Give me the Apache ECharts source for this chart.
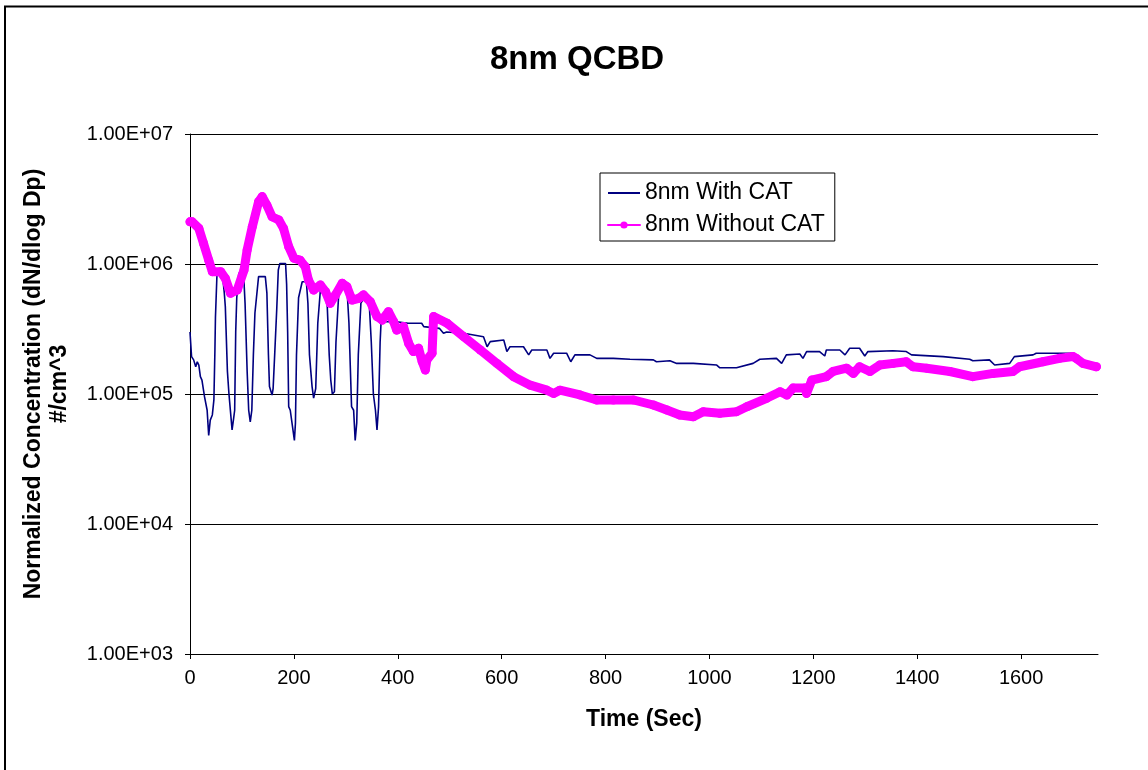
<!DOCTYPE html>
<html>
<head>
<meta charset="utf-8">
<script src="https://cdn.jsdelivr.net/npm/echarts@6/dist/echarts.min.js"></script>
<style>
html,body{margin:0;padding:0;background:#fff;}
#chart{width:1148px;height:770px;}
</style>
</head>
<body>
<div id="chart"></div>
<script>
const chartTitle = '8nm QCBD';
const xAxisName = 'Time (Sec)';
const yAxisNameLines = ['Normalized Concentration (dN/dlog Dp)', '#/cm^3'];
const seriesNames = ['8nm With CAT', '8nm Without CAT'];

// [time (s), concentration]
const withCat = [
[0,3.0e5],[3,1.94e5],[7,1.83e5],[11,1.62e5],[14,1.77e5],[17,1.67e5],[20,1.36e5],[23,1.28e5],[28,9.5e4],[33,7.5e4],[36,4.8e4],[39,6.3e4],[43,6.9e4],[46,9.0e4],[48,2.2e5],[49,3.9e5],[52,8.5e5],[55,8.8e5],[62,8.7e5],[66,6.0e5],[68,4.7e5],[72,1.5e5],[75,1.0e5],[81,5.3e4],[84,6.5e4],[86,7.5e4],[88,3.0e5],[90,5.5e5],[94,8.5e5],[103,8.7e5],[106,5.0e5],[110,1.5e5],[113,7.5e4],[116,6.1e4],[119,7.5e4],[122,2.0e5],[125,4.2e5],[132,8.0e5],[145,8.0e5],[148,6.0e5],[151,2.0e5],[153,1.14e5],[158,9.8e4],[160,1.1e5],[163,2.0e5],[167,4.5e5],[170,9.0e5],[173,1.01e6],[184,1.01e6],[186,7.0e5],[188,3.0e5],[190,8.0e4],[193,7.5e4],[201,4.4e4],[203,6.0e4],[205,2.0e5],[209,5.5e5],[216,7.3e5],[224,7.3e5],[227,5.0e5],[230,2.0e5],[235,1.14e5],[238,9.3e4],[242,1.1e5],[246,3.5e5],[251,6.3e5],[261,6.3e5],[264,5.0e5],[268,2.0e5],[271,1.28e5],[274,1.0e5],[278,1.04e5],[281,2.5e5],[286,5.6e5],[290,7.1e5],[296,7.1e5],[302,6.7e5],[306,3.5e5],[311,8.0e4],[315,7.5e4],[318,4.4e4],[321,6.0e4],[324,2.0e5],[329,5.0e5],[334,5.4e5],[340,5.4e5],[345,5.0e5],[349,2.5e5],[353,1.0e5],[357,7.5e4],[360,5.3e4],[363,8.0e4],[366,2.5e5],[368,3.7e5],[375,3.6e5],[398,3.6e5],[420,3.5e5],[446,3.5e5],[450,3.3e5],[480,3.2e5],[488,2.93e5],[494,3.0e5],[527,2.93e5],[565,2.76e5],[572,2.31e5],[578,2.53e5],[604,2.6e5],[610,2.12e5],[616,2.31e5],[642,2.31e5],[652,2.0e5],[658,2.18e5],[687,2.18e5],[693,1.88e5],[700,2.06e5],[725,2.06e5],[733,1.77e5],[741,2.0e5],[770,2.0e5],[783,1.88e5],[815,1.88e5],[847,1.85e5],[892,1.83e5],[898,1.77e5],[924,1.80e5],[937,1.72e5],[969,1.72e5],[1014,1.67e5],[1020,1.59e5],[1052,1.59e5],[1084,1.72e5],[1097,1.85e5],[1129,1.88e5],[1139,1.72e5],[1148,2.0e5],[1174,2.03e5],[1180,1.88e5],[1187,2.12e5],[1212,2.12e5],[1222,1.96e5],[1225,2.18e5],[1251,2.18e5],[1261,2.0e5],[1270,2.25e5],[1289,2.25e5],[1299,1.96e5],[1305,2.12e5],[1353,2.15e5],[1379,2.12e5],[1389,2.0e5],[1450,1.94e5],[1501,1.85e5],[1507,1.8e5],[1539,1.83e5],[1549,1.67e5],[1578,1.72e5],[1587,1.94e5],[1623,2.0e5],[1629,2.06e5],[1700,2.06e5],[1706,2.0e5],[1720,1.8e5],[1745,1.65e5]
];

const withoutCat = [
[0,2.11e6],[4,2.11e6],[17,1.88e6],[26,1.44e6],[36,1.07e6],[43,8.73e5],[59,8.73e5],[68,7.76e5],[78,5.96e5],[91,6.31e5],[104,8.99e5],[110,1.28e6],[120,1.94e6],[132,3.01e6],[139,3.3e6],[148,2.84e6],[158,2.31e6],[171,2.18e6],[180,1.88e6],[190,1.36e6],[200,1.11e6],[212,1.07e6],[222,9.53e5],[228,7.53e5],[238,6.31e5],[251,6.89e5],[261,6.12e5],[270,4.99e5],[280,5.78e5],[293,7.11e5],[302,6.69e5],[312,5.28e5],[325,5.44e5],[334,5.78e5],[347,5.13e5],[360,3.94e5],[370,3.71e5],[382,4.3e5],[392,3.6e5],[398,3.1e5],[411,3.3e5],[421,2.45e5],[430,2.12e5],[440,2.25e5],[447,1.77e5],[453,1.53e5],[456,1.83e5],[466,2.06e5],[469,3.94e5],[495,3.5e5],[527,2.76e5],[559,2.18e5],[591,1.72e5],[623,1.36e5],[655,1.17e5],[687,1.07e5],[700,1.01e5],[712,1.07e5],[751,9.83e4],[783,8.99e4],[815,8.99e4],[854,8.99e4],[892,8.23e4],[918,7.53e4],[943,6.89e4],[969,6.69e4],[988,7.31e4],[1020,7.11e4],[1052,7.31e4],[1072,7.98e4],[1110,9.27e4],[1136,1.04e5],[1149,9.83e4],[1161,1.11e5],[1184,1.11e5],[1187,1.01e5],[1197,1.28e5],[1225,1.36e5],[1238,1.49e5],[1264,1.58e5],[1277,1.44e5],[1289,1.62e5],[1309,1.49e5],[1328,1.67e5],[1354,1.72e5],[1379,1.77e5],[1392,1.62e5],[1418,1.58e5],[1463,1.49e5],[1507,1.36e5],[1546,1.44e5],[1584,1.49e5],[1597,1.62e5],[1642,1.77e5],[1674,1.88e5],[1700,1.94e5],[1706,1.88e5],[1719,1.72e5],[1745,1.62e5]
];

const FONT = '"Liberation Sans", Arial, sans-serif';

function sciLabel(v) {
  const e = Math.round(Math.log10(v));
  return '1.00E' + (e >= 0 ? '+' : '-') + String(Math.abs(e)).padStart(2, '0');
}

const chart = echarts.init(document.getElementById('chart'), null, {renderer: 'canvas'});
chart.setOption({
  backgroundColor: '#ffffff',
  animation: false,
  title: {
    text: chartTitle,
    left: 490,
    top: 43,
    padding: 0,
    textStyle: {fontFamily: FONT, fontSize: 33, fontWeight: 'bold', color: '#000'}
  },
  grid: {left: 190, right: 50, top: 134, bottom: 116, containLabel: false},
  legend: {
    orient: 'vertical',
    left: 600,
    top: 173,
    padding: [8, 10, 4, 7],
    itemWidth: 32,
    itemHeight: 9,
    itemGap: 8,
    backgroundColor: '#fff',
    borderColor: '#000',
    borderWidth: 1,
    borderRadius: 0,
    textStyle: {fontFamily: FONT, fontSize: 23, color: '#000', lineHeight: 24},
    data: [
      {name: seriesNames[0], itemStyle: {opacity: 0}},
      {name: seriesNames[1]}
    ]
  },
  xAxis: {
    type: 'value',
    min: 0,
    max: 1748,
    interval: 200,
    name: xAxisName,
    nameLocation: 'middle',
    nameGap: 54,
    nameTextStyle: {fontFamily: FONT, fontSize: 23, fontWeight: 'bold', color: '#000'},
    axisLine: {lineStyle: {color: '#000', width: 1}},
    axisTick: {show: true, inside: false, length: 5, lineStyle: {color: '#000'}},
    axisLabel: {fontFamily: FONT, fontSize: 20, color: '#000', margin: 14, showMaxLabel: false,
      formatter: function (v) { return String(v); }},
    splitLine: {show: false}
  },
  yAxis: {
    type: 'log',
    logBase: 10,
    min: 1e3,
    max: 1e7,
    axisLine: {show: true, lineStyle: {color: '#000', width: 1}},
    axisTick: {show: true, inside: false, length: 5, lineStyle: {color: '#000'}},
    axisLabel: {fontFamily: FONT, fontSize: 20, color: '#000', margin: 17, formatter: sciLabel},
    splitLine: {show: true, lineStyle: {color: '#000', width: 1}},
    minorTick: {show: false}
  },
  graphic: [
    {
      type: 'rect', silent: true, z: 100,
      shape: {x: 5, y: 6.5, width: 1300, height: 1000},
      style: {fill: 'none', stroke: '#000', lineWidth: 2}
    },
    {
      type: 'text', silent: true,
      x: 47, y: 384, rotation: Math.PI / 2,
      style: {
        text: yAxisNameLines.join('\n'),
        font: 'bold 23px ' + FONT,
        fill: '#000',
        align: 'center',
        verticalAlign: 'middle',
        lineHeight: 26
      }
    }
  ],
  series: [
    {
      name: seriesNames[0],
      type: 'line',
      data: withCat,
      showSymbol: false,
      symbol: 'none',
      lineStyle: {color: '#000080', width: 1.6},
      itemStyle: {color: '#000080'},
      z: 2
    },
    {
      name: seriesNames[1],
      type: 'line',
      data: withoutCat,
      symbol: 'circle',
      symbolSize: 9,
      showSymbol: true,
      lineStyle: {color: '#ff00ff', width: 9, cap: 'round', join: 'round'},
      itemStyle: {color: '#ff00ff'},
      z: 3
    }
  ]
});
</script>
</body>
</html>
